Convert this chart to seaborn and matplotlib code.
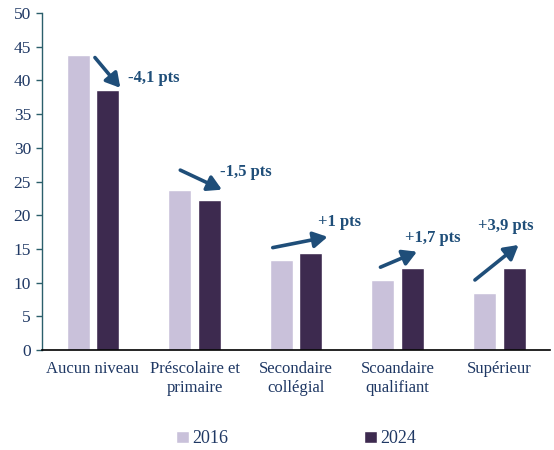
import matplotlib
matplotlib.use("Agg")
import matplotlib.pyplot as plt
import seaborn as sns
import pandas as pd

categories = ["Aucun niveau", "Préscolaire et\nprimaire", "Secondaire\ncollégial", "Scoandaire\nqualifiant", "Supérieur"]
years = ["2016", "2024"]
values_2016 = [43.8, 23.8, 13.4, 10.4, 8.4]
values_2024 = [38.6, 22.3, 14.4, 12.2, 12.2]
change_labels = ["-4,1 pts", "-1,5 pts", "+1 pts", "+1,7 pts", "+3,9 pts"]
yticks = [0, 5, 10, 15, 20, 25, 30, 35, 40, 45, 50]

df = pd.DataFrame({
    "cat": categories * 2,
    "year": [years[0]] * 5 + [years[1]] * 5,
    "val": values_2016 + values_2024,
})

sns.set_theme(style="white")
plt.rcParams["font.family"] = ["Liberation Serif", "DejaVu Serif"]

navy = "#1f3864"
arrow_c = "#1f4e79"
palette = {"2016": "#c9c1da", "2024": "#3d2a4f"}

fig = plt.figure(figsize=(5.54, 4.5), dpi=100)
ax = fig.add_axes([0.076, 0.222, 0.917, 0.749])
sns.barplot(data=df, x="cat", y="val", hue="year", palette=palette, ax=ax,
            width=0.58, gap=0.22, saturation=1, legend=True)

ax.set_xlim(-0.5, 4.5)
ax.set_ylim(0, 50)
ax.set_yticks(yticks)
ax.set_xlabel("")
ax.set_ylabel("")
ax.tick_params(axis="y", colors=navy, labelsize=12.5, length=4, width=1, direction="out", left=True, pad=4)
ax.tick_params(axis="y", color="#2b5f6b")
ax.tick_params(axis="x", labelsize=12, colors=navy, length=0, pad=8)
for s in ["top", "right"]:
    ax.spines[s].set_visible(False)
ax.spines["left"].set_color("#2b5f6b")
ax.spines["left"].set_linewidth(1)
ax.spines["bottom"].set_color("black")
ax.spines["bottom"].set_linewidth(1.2)

# arrows: positions in data coordinates around each category
arrow_geom = [
    ((0.02, 43.4), (0.27, 38.9)),
    ((0.86, 26.7), (1.27, 23.8)),
    ((1.77, 15.2), (2.31, 16.8)),
    ((2.83, 12.3), (3.19, 14.6)),
    ((3.76, 10.4), (4.19, 15.6)),
]
label_pos = [(0.35, 40.4), (1.25, 26.4), (2.22, 19.0), (3.07, 16.6), (3.79, 18.4)]
for (s, e), lp, lab in zip(arrow_geom, label_pos, change_labels):
    ax.annotate("", xy=e, xytext=s,
                arrowprops=dict(arrowstyle="-|>,head_length=0.7,head_width=0.4",
                                color=arrow_c, lw=2.6, shrinkA=0, shrinkB=0))
    ax.text(lp[0], lp[1], lab, color=arrow_c, fontsize=12, fontweight="bold",
            ha="left", va="center")

leg = ax.legend(loc="upper center", bbox_to_anchor=(0.5, -0.19), ncol=2, frameon=False,
                fontsize=13, handlelength=0.7, handleheight=0.7, handletextpad=0.2,
                columnspacing=7.5)
for t in leg.get_texts():
    t.set_color(navy)

fig.savefig("out.png", dpi=100)
